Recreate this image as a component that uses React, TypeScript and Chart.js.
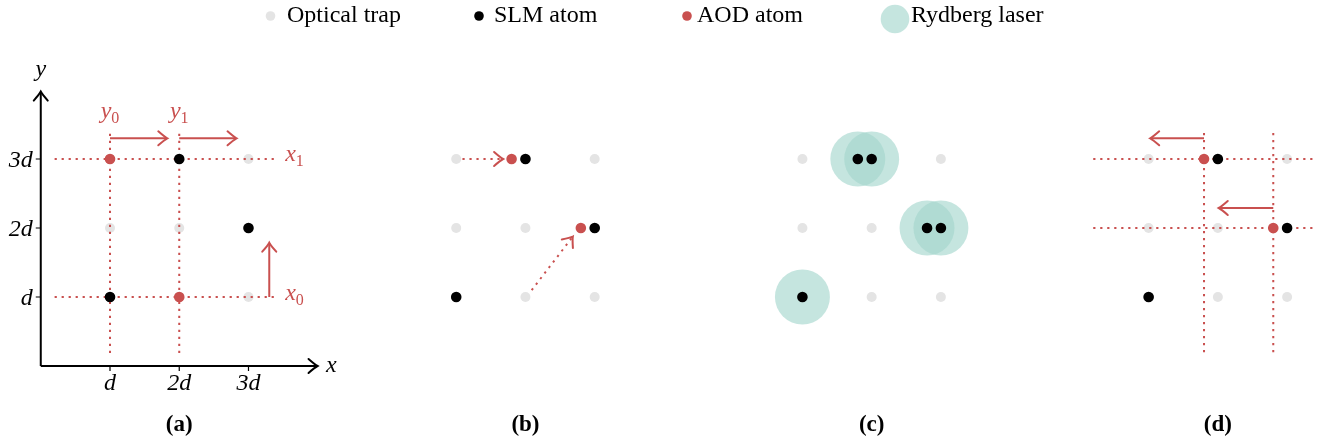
import React, { useEffect, useRef } from "react";
import { Chart, registerables } from "chart.js";
Chart.register(...registerables);

type P = [number, number];
type Seg = [P, P];

// ---------- data (panel-local coordinates, in units of d) ----------
const PANEL_GAP = 5;
const panelLabels = ["(a)", "(b)", "(c)", "(d)"];
const tickValues = [1, 2, 3];
const xTickLabels = ["d", "2d", "3d"];
const yTickLabels = ["d", "2d", "3d"];
const legendLabels = ["Optical trap", "SLM atom", "AOD atom", "Rydberg laser"];

const trapSites: P[] = [[1, 1], [2, 1], [3, 1], [1, 2], [2, 2], [3, 2], [1, 3], [2, 3], [3, 3]];

const slmA: P[] = [[2, 3], [1, 1], [3, 2]];
const aodA: P[] = [[1, 3], [2, 1]];
const guidesA: Seg[] = [[[1, 0.19], [1, 3.39]], [[2, 0.19], [2, 3.39]], [[0.2, 3], [3.38, 3]], [[0.2, 1], [3.38, 1]]];
const arrowsA: Seg[] = [[[1, 3.3], [1.82, 3.3]], [[2, 3.3], [2.82, 3.3]], [[3.3, 1], [3.3, 1.78]]];
const axesA: Seg[] = [[[0, 0], [3.99, 0]], [[0, 0], [0, 3.97]]];

const slmB: P[] = [[2, 3], [3, 2], [1, 1]];
const aodB: P[] = [[1.8, 3], [2.8, 2]];
const dottedArrowsB: Seg[] = [[[1.09, 3], [1.67, 3]], [[2.09, 1.1], [2.68, 1.87]]];

const atomsC: P[] = [[1.8, 3], [2, 3], [2.8, 2], [3, 2], [1, 1]];
const rydbergC: P[] = [[1.8, 3], [2, 3], [2.8, 2], [3, 2], [1, 1]];

const slmD: P[] = [[2, 3], [3, 2], [1, 1]];
const aodD: P[] = [[1.8, 3], [2.8, 2]];
const guidesD: Seg[] = [[[1.8, 0.2], [1.8, 3.38]], [[2.8, 0.2], [2.8, 3.38]], [[0.2, 3], [3.38, 3]], [[0.2, 2], [3.38, 2]]];
const arrowsD: Seg[] = [[[1.8, 3.3], [1.03, 3.3]], [[2.8, 2.29], [2.02, 2.29]]];

// ---------- style ----------
const RED = "#c9504f";
const GRAY = "#e4e4e4";
const BLACK = "#000000";
const TEAL = "rgba(164,214,205,0.64)";
const SERIF = '"Liberation Serif", "Times New Roman", serif';

const toXY = (pts: P[], panel: number) => pts.map(([x, y]) => ({ x: x + panel * PANEL_GAP, y }));

function pointsDataset(pts: { x: number; y: number }[], color: string, radius: number, order: number) {
  return {
    data: pts,
    showLine: false,
    pointRadius: radius,
    pointHoverRadius: radius,
    pointBackgroundColor: color,
    pointBorderWidth: 0,
    borderWidth: 0,
    order,
  };
}

function segDataset(seg: Seg, panel: number, color: string, dotted: boolean, arrow: boolean, order: number, width = 2) {
  return {
    data: toXY(seg, panel),
    showLine: true,
    borderColor: color,
    borderWidth: width,
    borderDash: dotted ? [2.2, 4.8] : [],
    borderCapStyle: "butt",
    pointRadius: 0,
    pointHoverRadius: 0,
    fill: false,
    tension: 0,
    order,
    arrowHead: arrow,
    arrowColor: color,
  };
}

function drawSub(ctx: CanvasRenderingContext2D, main: string, sub: string, x: number, y: number, align: "center" | "left") {
  ctx.font = `italic 24px ${SERIF}`;
  const w1 = ctx.measureText(main).width;
  ctx.font = `16px ${SERIF}`;
  const w2 = ctx.measureText(sub).width;
  const start = align === "center" ? x - (w1 + w2) / 2 : x;
  ctx.textAlign = "left";
  ctx.textBaseline = "alphabetic";
  ctx.font = `italic 24px ${SERIF}`;
  ctx.fillText(main, start, y);
  ctx.font = `16px ${SERIF}`;
  ctx.fillText(sub, start + w1, y + 5);
}

const annotationPlugin = {
  id: "annotationPlugin",
  afterDatasetsDraw(chart: any) {
    const ctx: CanvasRenderingContext2D = chart.ctx;
    chart.data.datasets.forEach((ds: any, i: number) => {
      if (!ds.arrowHead) return;
      const meta = chart.getDatasetMeta(i);
      const n = meta.data.length;
      const a = meta.data[n - 2];
      const b = meta.data[n - 1];
      const ang = Math.atan2(b.y - a.y, b.x - a.x);
      ctx.save();
      ctx.translate(b.x, b.y);
      ctx.rotate(ang);
      ctx.setLineDash([]);
      ctx.strokeStyle = ds.arrowColor;
      ctx.lineWidth = 2;
      ctx.lineCap = "round";
      ctx.beginPath();
      ctx.moveTo(-8.5, -7);
      ctx.quadraticCurveTo(-2, -1.3, 0.5, 0);
      ctx.quadraticCurveTo(-2, 1.3, -8.5, 7);
      ctx.stroke();
      ctx.restore();
    });
  },
  afterDraw(chart: any) {
    const ctx: CanvasRenderingContext2D = chart.ctx;
    const xs = chart.scales.x;
    const ys = chart.scales.y;
    const px = (v: number) => xs.getPixelForValue(v);
    const py = (v: number) => ys.getPixelForValue(v);
    ctx.save();

    // axis tick marks (panel a)
    ctx.strokeStyle = BLACK;
    ctx.lineWidth = 1.2;
    ctx.setLineDash([]);
    tickValues.forEach((v) => {
      ctx.beginPath();
      ctx.moveTo(px(0) - 5, py(v));
      ctx.lineTo(px(0), py(v));
      ctx.moveTo(px(v), py(0));
      ctx.lineTo(px(v), py(0) + 5);
      ctx.stroke();
    });

    // tick labels
    ctx.fillStyle = BLACK;
    ctx.font = `italic 24px ${SERIF}`;
    ctx.textBaseline = "alphabetic";
    ctx.textAlign = "center";
    tickValues.forEach((v, i) => ctx.fillText(xTickLabels[i], px(v), py(0) + 24));
    ctx.textAlign = "right";
    tickValues.forEach((v, i) => ctx.fillText(yTickLabels[i], px(0) - 8, py(v) + 8));

    // axis names
    ctx.textAlign = "center";
    ctx.fillText("y", px(0), 76);
    ctx.textAlign = "left";
    ctx.fillText("x", px(3.99) + 9, py(0) + 6);

    // red labels in panel a
    ctx.fillStyle = RED;
    drawSub(ctx, "y", "0", px(1), py(3.3) - 20, "center");
    drawSub(ctx, "y", "1", px(2), py(3.3) - 20, "center");
    drawSub(ctx, "x", "1", px(3.53), py(3) + 2, "left");
    drawSub(ctx, "x", "0", px(3.53), py(1) + 3, "left");

    // panel labels
    ctx.fillStyle = BLACK;
    ctx.font = `bold 23px ${SERIF}`;
    ctx.textAlign = "center";
    panelLabels.forEach((lab, p) => ctx.fillText(lab, px(2 + p * PANEL_GAP), py(0) + 65));

    // legend
    const legendMarks = [
      { cx: 270.5, cy: 16, r: 4.8, color: GRAY, tx: 287 },
      { cx: 479, cy: 16, r: 4.8, color: BLACK, tx: 494 },
      { cx: 687, cy: 16, r: 4.8, color: RED, tx: 697 },
      { cx: 895, cy: 19, r: 14.3, color: TEAL, tx: 911 },
    ];
    ctx.font = `24px ${SERIF}`;
    ctx.textAlign = "left";
    legendMarks.forEach((m, i) => {
      ctx.fillStyle = m.color;
      ctx.beginPath();
      ctx.arc(m.cx, m.cy, m.r, 0, Math.PI * 2);
      ctx.fill();
      ctx.fillStyle = BLACK;
      ctx.fillText(legendLabels[i], m.tx, 22);
    });
    ctx.restore();
  },
};

export default function App() {
  const ref = useRef<HTMLCanvasElement | null>(null);
  useEffect(() => {
    if (!ref.current) return;
    const datasets: any[] = [];
    // order: lower number drawn on top
    const allTraps = [0, 1, 2, 3].flatMap((p) => toXY(trapSites, p));
    datasets.push(pointsDataset(allTraps, GRAY, 5, 90));
    axesA.forEach((s) => datasets.push(segDataset(s, 0, BLACK, false, true, 95, 2)));
    datasets.push(pointsDataset(toXY(rydbergC, 2), TEAL, 27.5, 80));
    guidesA.forEach((s) => datasets.push(segDataset(s, 0, RED, true, false, 70)));
    guidesD.forEach((s) => datasets.push(segDataset(s, 3, RED, true, false, 70)));
    datasets.push(pointsDataset([...toXY(slmA, 0), ...toXY(slmB, 1), ...toXY(atomsC, 2), ...toXY(slmD, 3)], BLACK, 5.3, 50));
    datasets.push(pointsDataset([...toXY(aodA, 0), ...toXY(aodB, 1), ...toXY(aodD, 3)], RED, 5.3, 40));
    arrowsA.forEach((s) => datasets.push(segDataset(s, 0, RED, false, true, 30)));
    arrowsD.forEach((s) => datasets.push(segDataset(s, 3, RED, false, true, 30)));
    dottedArrowsB.forEach((s) => datasets.push(segDataset(s, 1, RED, true, true, 30)));

    const chart = new Chart(ref.current, {
      type: "scatter",
      data: { datasets },
      options: {
        responsive: false,
        animation: false,
        devicePixelRatio: 1,
        events: [],
        layout: { padding: 0, autoPadding: false },
        plugins: { legend: { display: false }, tooltip: { enabled: false }, title: { display: false } },
        scales: {
          x: { type: "linear", min: -0.5887, max: 18.475, display: false },
          y: { type: "linear", min: -1.1304, max: 5.3043, display: false },
        },
      },
      plugins: [annotationPlugin],
    } as any);
    return () => chart.destroy();
  }, []);
  return (
    <div style={{ position: "absolute", left: 0, top: 0, width: 1320, height: 444, background: "#fff" }}>
      <canvas ref={ref} width={1320} height={444} style={{ display: "block" }} />
    </div>
  );
}
